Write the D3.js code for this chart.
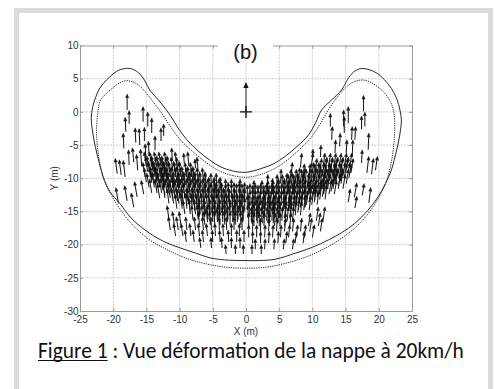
<!DOCTYPE html>
<html><head><meta charset="utf-8">
<script src="https://cdn.jsdelivr.net/npm/d3@7"></script>
<style>body{margin:0;background:#fff}svg{display:block}</style>
</head><body>
<svg id="c" width="494" height="389"></svg>
<script>
// ---------- data ----------
const xTicks = [-25,-20,-15,-10,-5,0,5,10,15,20,25];
const yTicks = [10,5,0,-5,-10,-15,-20,-25,-30];
const titleText = "(b)";
const xLabel = "X (m)";
const yLabel = "Y (m)";
const captionLead = "Figure 1";
const captionRest = " : Vue déformation de la nappe à 20km/h";

// solid outline (x,y in metres)
const solidOutline = [
 [0,-9.1],[-2.0,-8.9],[-3.8,-8.3],[-5.4,-7.3],[-7.2,-5.9],[-8.9,-4.2],[-10.3,-2.3],[-11.3,-0.7],[-12.0,0.3],
 [-13.2,1.8],[-14.5,3.3],[-15.3,4.8],[-16.2,5.9],[-17.3,6.5],[-18.4,6.5],[-19.5,6.1],[-21.0,4.8],[-22.0,3.6],
 [-22.6,2.3],[-23.1,0.7],[-23.3,-0.9],[-23.1,-3.0],[-22.7,-5.2],[-22.1,-7.7],[-21.5,-9.8],[-20.5,-12.0],
 [-19.0,-13.8],[-17.2,-16.1],[-14.5,-18.3],[-12.0,-19.7],[-9.9,-20.5],[-7.5,-21.3],[-5.4,-22.0],[-2.5,-22.35],
 [0,-22.4],[2.0,-22.4],[4.4,-22.2],[7.4,-21.3],[10.0,-20.4],[12.4,-19.3],[14.4,-18.2],[16.4,-16.8],[18.3,-14.9],
 [19.9,-12.8],[21.0,-10.8],[21.9,-8.75],[22.3,-7.3],[22.8,-5.3],[23.2,-3.2],[23.4,-1.2],[23.2,0.2],[22.7,2.0],
 [21.9,3.5],[20.8,4.9],[19.6,5.9],[18.4,6.4],[17.2,6.5],[16.2,6.0],[15.3,4.9],[14.4,3.3],[12.9,1.8],[11.4,0.3],
 [10.5,-1.6],[9.4,-3.5],[7.7,-5.2],[5.9,-6.7],[4.2,-7.8],[2.4,-8.5]
];
// dotted outline
const dottedOutline = [
 [0,-9.85],[-2,-9.6],[-4,-8.9],[-5.9,-7.7],[-8,-6.0],[-9.9,-4.2],[-11.4,-2.2],[-12.7,-0.2],[-13.9,1.4],
 [-15.0,2.8],[-16.0,3.9],[-17.0,4.5],[-18.0,4.7],[-19.0,4.4],[-20.2,3.5],[-21.2,2.6],[-22.0,1.6],[-22.3,0.0],
 [-22.5,-2.5],[-22.4,-5.0],[-22.0,-7.8],[-21.4,-10.2],[-20.3,-12.5],[-19.0,-14.6],[-17.2,-16.9],[-14.5,-19.3],
 [-12.0,-20.7],[-9.4,-21.9],[-6.0,-22.9],[-3.0,-23.4],[0,-23.55],[3.0,-23.4],[6.0,-22.8],[9.2,-21.8],[12.0,-20.5],
 [14.6,-18.9],[17.0,-16.9],[18.8,-14.8],[20.2,-12.5],[21.2,-10.3],[21.9,-7.5],[22.3,-4.5],[22.4,-1.7],[22.2,0.3],
 [21.7,1.6],[20.9,2.8],[19.8,3.8],[18.7,4.5],[17.6,4.8],[16.4,4.6],[15.3,3.9],[14.3,2.9],[13.2,1.5],[12.1,-0.2],
 [11.0,-2.1],[9.6,-4.1],[7.8,-5.9],[5.9,-7.5],[4,-8.7],[2,-9.5]
];

// reference vector (x, y, u, v)
const refArrow = [0, 0, 0, 4.5];

// isolated arrows [x, y, u, v]
const sideArrows = [
 [-17.9,0.3,0,2.4],[-17.6,-1.8,0,2.0],[-18.1,-3.0,-0.1,2.2],[-18.4,-5.5,-0.1,2.3],[-17.6,-8.0,-0.1,2.3],
 [-19.4,-9.3,-0.3,2.3],[-18.8,-9.5,-0.3,2.3],[-18.2,-9.8,-0.3,2.5],[-15.5,-1.5,0,2.3],[-14.8,-2.2,0,2.2],
 [-14.2,-3.2,0,2.3],[-16.0,-5.0,-0.1,2.5],[-16.6,-4.6,-0.1,2.2],[-15.3,-4.4,0,2.1],[-14.6,-6.6,-0.1,2.2],
 [-13.7,-5.8,0,2.2],[-12.8,-4.4,0,2.0],[-12.4,-3.6,0,1.8],[-15.7,-8.2,-0.2,2.6],[-16.3,-8.8,-0.2,2.4],
 [-16.9,-7.6,-0.2,2.2],[-11.1,-7.4,-0.1,2.0],[-9.3,-7.8,-0.1,1.6],[-7.6,-8.5,-0.1,1.4],[-15.1,-6.8,-0.1,2.0],
 [-19.2,-13.8,-0.4,2.4],[-17.9,-13.4,-0.4,2.3],[-16.9,-14.4,-0.4,2.2],[-16.4,-12.8,-0.4,2.3],[-15.4,-12.4,-0.4,2.1],
 [17.7,0.1,0,2.4],[17.9,-2.2,0,2.2],[17.4,-2.6,0,2.0],[18.4,-5.7,0.1,2.5],[17.4,-7.7,0.1,2.0],
 [18.2,-9.2,0.3,2.5],[18.9,-9.4,0.3,2.4],[19.5,-8.8,0.3,2.1],[15.4,-1.7,0,2.5],[14.7,-2.2,0,2.5],
 [15.9,-4.2,0.1,2.0],[14.8,-3.2,0,2.5],[14.1,-5.2,0.1,2.0],[12.7,-2.2,0,2.0],[12.9,-4.2,0.1,2.0],
 [13.4,-6.2,0.1,2.0],[15.1,-6.2,0.1,2.0],[16.0,-6.7,0.1,2.5],[16.4,-4.2,0.1,2.0],[11.2,-6.8,0.1,1.8],
 [10.0,-7.2,0.1,1.6],[6.8,-9.6,0.2,2.0],
 [16.3,-12.9,0.4,2.2],[17.5,-12.6,0.3,1.8],[18.5,-13.7,0.3,2.3],[16.4,-14.5,0.3,1.8],[15.4,-13.6,0.3,2.0]
];

// dense field rows: [tail y, length v, [[x, u], ...]]
const leftRows = [
 [-8.2,2.2,[[-15.0,-.35],[-14.2,-.35],[-13.5,-.35],[-12.8,-.35],[-12.0,-.3],[-10.4,-.3],[-8.6,-.2]]],
 [-9.0,2.2,[[-14.8,-.35],[-14.0,-.35],[-13.3,-.35],[-12.5,-.35],[-11.8,-.3],[-11.0,-.3],[-10.2,-.3],[-7.2,-.2]]],
 [-9.8,2.2,[[-15.2,-.35],[-14.4,-.35],[-13.7,-.35],[-12.9,-.35],[-12.2,-.3],[-11.4,-.3],[-10.6,-.3],[-9.8,-.3],[-9.0,-.2],[-8.2,-.2]]],
 [-10.6,2.2,[[-15.0,-.35],[-14.2,-.35],[-13.4,-.35],[-12.6,-.35],[-11.9,-.3],[-11.2,-.3],[-10.4,-.3],[-9.6,-.3],[-8.8,-.2],[-8.0,-.2],[-7.2,-.2],[-6.4,-.2]]],
 [-11.4,2.2,[[-14.6,-.35],[-13.8,-.35],[-13.0,-.35],[-12.3,-.3],[-11.5,-.3],[-10.8,-.3],[-10.0,-.3],[-9.2,-.3],[-8.4,-.2],[-7.6,-.2],[-6.8,-.2],[-6.0,-.2],[-5.2,-.1],[-4.4,-.1]]],
 [-12.2,2.1,[[-14.2,-.35],[-13.4,-.35],[-12.7,-.35],[-11.9,-.3],[-11.2,-.3],[-10.4,-.3],[-9.6,-.3],[-8.8,-.2],[-8.0,-.2],[-7.2,-.2],[-6.4,-.2],[-5.6,-.2],[-4.8,-.1],[-4.0,-.1],[-3.0,-.1],[-2.2,0],[-0.9,0]]],
 [-13.0,2.2,[[-13.0,-.35],[-12.2,-.3],[-11.4,-.3],[-10.7,-.3],[-9.9,-.3],[-9.2,-.3],[-8.4,-.2],[-7.6,-.2],[-6.8,-.2],[-6.0,-.2],[-5.2,-.1],[-4.5,-.1],[-3.7,-.1],[-3.0,-.1],[-2.2,0],[-1.4,0],[-0.6,0]]],
 [-13.8,2.2,[[-11.6,-.3],[-10.9,-.3],[-10.1,-.3],[-9.4,-.3],[-8.6,-.2],[-7.8,-.2],[-7.0,-.2],[-6.2,-.2],[-5.5,-.1],[-4.7,-.1],[-4.0,-.1],[-3.2,-.1],[-2.5,0],[-1.7,0],[-0.9,0],[-0.2,0]]],
 [-14.6,2.2,[[-10.4,-.3],[-9.6,-.3],[-8.9,-.2],[-8.1,-.2],[-7.3,-.2],[-6.6,-.2],[-5.8,-.2],[-5.0,-.1],[-4.3,-.1],[-3.5,-.1],[-2.8,-.1],[-2.0,0],[-1.3,0],[-0.5,0]]],
 [-15.4,2.1,[[-9.2,-.3],[-8.4,-.2],[-7.6,-.2],[-6.9,-.2],[-6.1,-.2],[-5.4,-.1],[-4.6,-.1],[-3.9,-.1],[-3.1,-.1],[-2.4,0],[-1.6,0],[-0.8,0]]],
 [-16.2,2.1,[[-11.6,-.3],[-8.0,-.2],[-7.2,-.2],[-6.5,-.2],[-5.7,-.2],[-5.0,-.1],[-4.2,-.1],[-3.5,-.1],[-2.7,-.1],[-1.9,0],[-1.2,0],[-0.4,0]]],
 [-17.0,2.0,[[-10.8,-.3],[-9.8,-.3],[-7.0,-.2],[-6.2,-.2],[-5.4,-.1],[-4.7,-.1],[-3.9,-.1],[-3.2,-.1],[-2.4,0],[-1.6,0],[-0.8,0]]],
 [-17.8,2.0,[[-11.4,-.3],[-10.2,-.3],[-8.9,-.2],[-7.6,-.2],[-6.4,-.2],[-5.2,-.1],[-4.0,-.1],[-2.9,-.1],[-1.8,0],[-0.6,0]]],
 [-18.7,1.9,[[-10.6,-.3],[-9.5,-.3],[-8.3,-.2],[-7.0,-.2],[-5.8,-.2],[-4.6,-.1],[-3.4,-.1],[-2.2,0],[-1.0,0]]],
 [-19.6,1.8,[[-9.0,-.2],[-7.8,-.2],[-6.4,-.2],[-5.0,-.1],[-3.9,-.1],[-2.6,-.1],[-1.4,0],[-0.3,0]]],
 [-20.5,1.6,[[-6.8,-.2],[-5.2,-.1],[-3.6,-.1],[-2.2,0],[-0.9,0]]],
 [-21.4,1.4,[[-3.0,-.1],[-1.6,0],[-0.4,0]]]
];
const rightRows = [
 [-8.4,2.2,[[8.2,.2],[9.8,.3],[11.6,.3],[12.4,.35],[13.2,.35],[14.0,.35],[14.8,.35],[15.6,.35]]],
 [-9.2,2.2,[[10.4,.3],[11.1,.3],[11.9,.3],[12.7,.35],[13.4,.35],[14.2,.35],[15.0,.35],[15.8,.35]]],
 [-10.0,2.2,[[8.6,.2],[9.4,.3],[10.1,.3],[10.9,.3],[11.7,.3],[12.4,.35],[13.2,.35],[14.0,.35],[14.8,.35],[15.5,.35]]],
 [-10.8,2.2,[[5.2,.1],[6.6,.2],[7.4,.2],[8.2,.2],[8.9,.2],[9.7,.3],[10.5,.3],[11.2,.3],[12.0,.3],[12.8,.35],[13.5,.35],[14.3,.35],[15.1,.35]]],
 [-11.6,2.2,[[3.2,.1],[4.6,.1],[5.4,.1],[6.2,.2],[7.0,.2],[7.7,.2],[8.5,.2],[9.3,.3],[10.0,.3],[10.8,.3],[11.6,.3],[12.3,.3],[13.1,.35],[13.9,.35],[14.6,.35]]],
 [-12.4,2.1,[[1.2,0],[2.4,0],[3.2,.1],[4.0,.1],[4.8,.1],[5.6,.2],[6.3,.2],[7.1,.2],[7.9,.2],[8.7,.2],[9.4,.3],[10.2,.3],[11.0,.3],[11.7,.3],[12.5,.35],[13.3,.35]]],
 [-13.2,2.2,[[0.2,0],[1.0,0],[1.8,0],[2.6,.1],[3.4,.1],[4.1,.1],[4.9,.1],[5.7,.2],[6.5,.2],[7.2,.2],[8.0,.2],[8.8,.2],[9.6,.3],[10.3,.3],[11.1,.3],[11.9,.3]]],
 [-14.0,2.2,[[0.6,0],[1.4,0],[2.2,0],[2.9,.1],[3.7,.1],[4.5,.1],[5.3,.1],[6.0,.2],[6.8,.2],[7.6,.2],[8.4,.2],[9.1,.3],[9.9,.3],[10.7,.3]]],
 [-14.8,2.2,[[0.2,0],[1.0,0],[1.7,0],[2.5,.1],[3.3,.1],[4.1,.1],[4.8,.1],[5.6,.2],[6.4,.2],[7.1,.2],[7.9,.2],[8.7,.2],[9.5,.3]]],
 [-15.6,2.1,[[0.5,0],[1.3,0],[2.0,0],[2.8,.1],[3.6,.1],[4.3,.1],[5.1,.1],[5.9,.2],[6.7,.2],[7.4,.2],[8.2,.2]]],
 [-16.4,2.1,[[0.8,0],[1.6,0],[2.3,0],[3.1,.1],[3.9,.1],[4.6,.1],[5.4,.1],[6.2,.2],[7.0,.2],[10.6,.3],[11.6,.3]]],
 [-17.2,2.0,[[0.4,0],[1.2,0],[2.0,0],[2.7,.1],[3.5,.1],[4.3,.1],[5.1,.1],[5.8,.2],[6.6,.2],[9.4,.3],[10.9,.3]]],
 [-18.0,2.0,[[1.0,0],[2.2,0],[3.4,.1],[4.6,.1],[5.8,.2],[7.0,.2],[8.2,.2],[9.6,.3],[11.2,.3]]],
 [-18.9,1.9,[[0.4,0],[1.6,0],[2.8,.1],[4.0,.1],[5.2,.1],[6.4,.2],[7.6,.2],[8.8,.2],[10.0,.3]]],
 [-19.8,1.8,[[1.0,0],[2.2,0],[3.4,.1],[4.8,.1],[6.0,.2],[7.4,.2],[8.6,.2]]],
 [-20.7,1.6,[[1.4,0],[2.8,.1],[4.2,.1],[5.6,.2],[7.0,.2]]],
 [-21.4,1.4,[[0.9,0],[2.3,0]]]
];
// extra interleaved rows in the darkest core of the band
const leftCore = [
 [-8.6,2.0,[[-14.6,-.35],[-13.9,-.35],[-13.1,-.35],[-12.4,-.3],[-11.6,-.3]]],
 [-9.4,2.0,[[-14.4,-.35],[-13.6,-.35],[-12.9,-.35],[-12.1,-.3],[-11.4,-.3],[-10.6,-.3],[-9.8,-.3]]],
 [-10.2,2.0,[[-14.1,-.35],[-13.3,-.35],[-12.5,-.35],[-11.8,-.3],[-11.0,-.3],[-10.2,-.3],[-9.4,-.3],[-8.6,-.2],[-7.8,-.2]]],
 [-11.0,2.0,[[-13.8,-.35],[-13.0,-.35],[-12.2,-.3],[-11.5,-.3],[-10.7,-.3],[-9.9,-.3],[-9.1,-.3],[-8.3,-.2],[-7.5,-.2],[-6.8,-.2],[-6.0,-.2]]],
 [-11.8,2.0,[[-13.2,-.35],[-12.5,-.35],[-11.7,-.3],[-10.9,-.3],[-10.1,-.3],[-9.4,-.3],[-8.6,-.2],[-7.8,-.2],[-7.0,-.2],[-6.2,-.2],[-5.5,-.1],[-4.7,-.1],[-3.8,-.1]]],
 [-12.6,2.0,[[-12.2,-.3],[-11.5,-.3],[-10.7,-.3],[-10.0,-.3],[-9.2,-.3],[-8.4,-.2],[-7.6,-.2],[-6.8,-.2],[-6.0,-.2],[-5.2,-.1],[-4.4,-.1],[-3.6,-.1],[-2.6,-.1],[-1.8,0],[-1.0,0],[-0.2,0]]],
 [-13.4,2.0,[[-11.0,-.3],[-10.3,-.3],[-9.5,-.3],[-8.8,-.2],[-8.0,-.2],[-7.2,-.2],[-6.4,-.2],[-5.6,-.2],[-4.9,-.1],[-4.1,-.1],[-3.3,-.1],[-2.6,-.1],[-1.8,0],[-1.0,0],[-0.3,0]]],
 [-14.2,2.0,[[-9.6,-.3],[-8.9,-.2],[-8.1,-.2],[-7.4,-.2],[-6.6,-.2],[-5.8,-.2],[-5.1,-.1],[-4.3,-.1],[-3.6,-.1],[-2.9,-.1],[-2.1,0],[-1.4,0],[-0.7,0]]],
 [-15.0,2.0,[[-8.4,-.2],[-7.7,-.2],[-6.9,-.2],[-6.2,-.2],[-5.4,-.1],[-4.7,-.1],[-3.9,-.1],[-3.2,-.1],[-2.5,0],[-1.7,0],[-1.0,0],[-0.2,0]]],
 [-15.8,2.0,[[-7.0,-.2],[-6.2,-.2],[-5.5,-.1],[-4.7,-.1],[-4.0,-.1],[-3.2,-.1],[-2.4,0],[-1.7,0],[-0.9,0]]],
 [-16.6,2.0,[[-5.8,-.2],[-5.0,-.1],[-4.3,-.1],[-3.5,-.1],[-2.8,-.1],[-2.0,0],[-1.3,0],[-0.5,0]]]
];
const rightCore = [
 [-8.8,2.0,[[11.9,.3],[12.7,.35],[13.5,.35],[14.3,.35],[15.1,.35]]],
 [-9.6,2.0,[[9.9,.3],[10.7,.3],[11.5,.3],[12.3,.3],[13.1,.35],[13.8,.35],[14.6,.35],[15.3,.35]]],
 [-10.4,2.0,[[7.9,.2],[8.7,.2],[9.5,.3],[10.3,.3],[11.0,.3],[11.8,.3],[12.6,.35],[13.4,.35],[14.2,.35]]],
 [-11.2,2.0,[[6.0,.2],[6.8,.2],[7.6,.2],[8.4,.2],[9.2,.3],[10.0,.3],[10.8,.3],[11.5,.3],[12.3,.3],[13.1,.35],[13.9,.35]]],
 [-12.0,2.0,[[3.9,.1],[4.8,.1],[5.6,.2],[6.4,.2],[7.2,.2],[8.0,.2],[8.8,.2],[9.6,.3],[10.4,.3],[11.2,.3],[12.0,.3],[12.8,.35]]],
 [-12.8,2.0,[[0.6,0],[1.4,0],[2.2,0],[3.0,.1],[3.8,.1],[4.5,.1],[5.3,.1],[6.1,.2],[6.9,.2],[7.6,.2],[8.4,.2],[9.2,.3],[10.0,.3],[10.7,.3],[11.5,.3]]],
 [-13.6,2.0,[[1.0,0],[1.8,0],[2.6,.1],[3.3,.1],[4.1,.1],[4.9,.1],[5.6,.2],[6.4,.2],[7.2,.2],[8.0,.2],[8.8,.2],[9.5,.3],[10.3,.3]]],
 [-14.4,2.0,[[0.4,0],[1.2,0],[2.0,0],[2.7,.1],[3.5,.1],[4.3,.1],[5.0,.1],[5.8,.2],[6.6,.2],[7.4,.2],[8.2,.2],[8.9,.2]]],
 [-15.2,2.0,[[0.9,0],[1.6,0],[2.4,0],[3.2,.1],[3.9,.1],[4.7,.1],[5.5,.2],[6.3,.2],[7.1,.2],[7.8,.2]]],
 [-16.0,2.0,[[0.3,0],[1.1,0],[1.9,0],[2.7,.1],[3.5,.1],[4.2,.1],[5.0,.1],[5.8,.2],[6.6,.2]]],
 [-16.8,2.0,[[0.9,0],[1.7,0],[2.5,.1],[3.3,.1],[4.1,.1],[4.8,.1]]]
];

// ---------- drawing ----------
const svg = d3.select('#c');
const X = d3.scaleLinear().domain([-25,25]).range([80,412]);
const Y = d3.scaleLinear().domain([-30,10]).range([311,45.5]);
const FONT = "'Liberation Sans', Arial, sans-serif";

// page frame
svg.append('rect').attr('x',16.5).attr('y',10.5).attr('width',474).attr('height',400)
  .attr('fill','none').attr('stroke','#dcdcdc').attr('stroke-width',5);

// grid
const grid = svg.append('g').attr('stroke','#cfcfcf').attr('stroke-width',1).attr('stroke-dasharray','2,1');
grid.selectAll('.gx').data(xTicks.slice(1,-1)).join('line')
  .attr('x1',d=>X(d)).attr('x2',d=>X(d)).attr('y1',Y(10)).attr('y2',Y(-30));
grid.selectAll('.gy').data(yTicks.slice(1,-1)).join('line')
  .attr('y1',d=>Y(d)).attr('y2',d=>Y(d)).attr('x1',X(-25)).attr('x2',X(25));

// axes
function styleAxis(g){
  g.selectAll('.domain').attr('stroke','#9a9a9a');
  g.selectAll('.tick line').attr('stroke','#9a9a9a');
  g.selectAll('.tick text').attr('fill','#333').style('font-family',FONT).style('font-size','10px');
}
const fmt = d => String(d);
svg.append('g').attr('transform',`translate(0,${Y(-30)})`)
  .call(d3.axisBottom(X).tickValues(xTicks).tickSize(-3).tickSizeOuter(0).tickPadding(5).tickFormat(fmt)).call(styleAxis);
svg.append('g').attr('transform',`translate(${X(-25)},0)`)
  .call(d3.axisLeft(Y).tickValues(yTicks).tickSize(-3).tickSizeOuter(0).tickPadding(1.5).tickFormat(fmt)).call(styleAxis);
svg.append('g').attr('transform',`translate(0,${Y(10)})`)
  .call(d3.axisTop(X).tickValues(xTicks).tickSize(-3).tickSizeOuter(0).tickFormat('')).call(styleAxis);
svg.append('g').attr('transform',`translate(${X(25)},0)`)
  .call(d3.axisRight(Y).tickValues(yTicks).tickSize(-3).tickSizeOuter(0).tickFormat('')).call(styleAxis);

// axis labels
svg.append('text').attr('x',X(0)).attr('y',335).attr('text-anchor','middle')
  .style('font-family',FONT).style('font-size','10px').attr('fill','#333').text(xLabel);
svg.append('text').attr('transform',`translate(58,${Y(-10)}) rotate(-90)`).attr('text-anchor','middle')
  .style('font-family',FONT).style('font-size','10px').attr('fill','#333').text(yLabel);

// title box
svg.append('rect').attr('x',218).attr('y',36).attr('width',55).attr('height',27).attr('fill','#fff');
svg.append('text').attr('x',245.5).attr('y',58.5).attr('text-anchor','middle')
  .style('font-family',FONT).style('font-size','20px').attr('fill','#111').text(titleText);

// outlines
const line = d3.line().x(d=>X(d[0])).y(d=>Y(d[1])).curve(d3.curveCatmullRomClosed.alpha(0.5));
svg.append('path').attr('d',line(dottedOutline)).attr('fill','none').attr('stroke','#333')
  .attr('stroke-width',1).attr('stroke-dasharray','1.3,1');
svg.append('path').attr('d',line(solidOutline)).attr('fill','none').attr('stroke','#2a2a2a').attr('stroke-width',1);

// arrows
const arrows = [];
sideArrows.forEach(a=>arrows.push(a));
leftRows.concat(rightRows, leftCore, rightCore).forEach(r=>r[2].forEach(p=>arrows.push([p[0],r[0],p[1],r[1]])));
let shafts = '', heads = '';
function arrowPaths(a, hl, hw){
  const x0=X(a[0]), y0=Y(a[1]), x1=X(a[0]+a[2]), y1=Y(a[1]+a[3]);
  const dx=x1-x0, dy=y1-y0, L=Math.hypot(dx,dy), ux=dx/L, uy=dy/L;
  const bx=x1-ux*hl, by=y1-uy*hl;
  return {
    s:`M${x0.toFixed(2)},${y0.toFixed(2)}L${bx.toFixed(2)},${by.toFixed(2)}`,
    h:`M${x1.toFixed(2)},${y1.toFixed(2)}L${(bx-uy*hw).toFixed(2)},${(by+ux*hw).toFixed(2)}L${(bx+uy*hw).toFixed(2)},${(by-ux*hw).toFixed(2)}Z`
  };
}
arrows.forEach(a=>{ const p=arrowPaths(a,3.8,1.6); shafts+=p.s; heads+=p.h; });
svg.append('path').attr('d',shafts).attr('fill','none').attr('stroke','#1a1a1a').attr('stroke-width',1.05);
svg.append('path').attr('d',heads).attr('fill','#111').attr('stroke','#111').attr('stroke-width',0.4);

// reference vector with cross
const rp = arrowPaths(refArrow, 6, 2.6);
svg.append('path').attr('d',rp.s).attr('stroke','#7a7a7a').attr('stroke-width',1.6).attr('fill','none');
svg.append('path').attr('d',rp.h).attr('fill','#111');
const cx=X(refArrow[0]), cy=Y(refArrow[1]);
svg.append('path').attr('d',`M${cx-6},${cy}H${cx+6}M${cx},${cy-6}V${cy+6}`).attr('stroke','#111').attr('stroke-width',1.4);

// caption
const cap = svg.append('text').attr('x',38).attr('y',358).style('font-family',"Carlito, Lato, sans-serif")
  .style('font-size','20px').attr('fill','#111');
const t1 = cap.append('tspan').text(captionLead);
cap.append('tspan').text(captionRest);
const w = cap.node().getComputedTextLength();
const fs = 20*426/w;
cap.style('font-size',fs+'px');
const lw = t1.node().getComputedTextLength();
svg.append('line').attr('x1',38).attr('x2',38+lw).attr('y1',360.5).attr('y2',360.5)
  .attr('stroke','#111').attr('stroke-width',1);
</script>
</body></html>
